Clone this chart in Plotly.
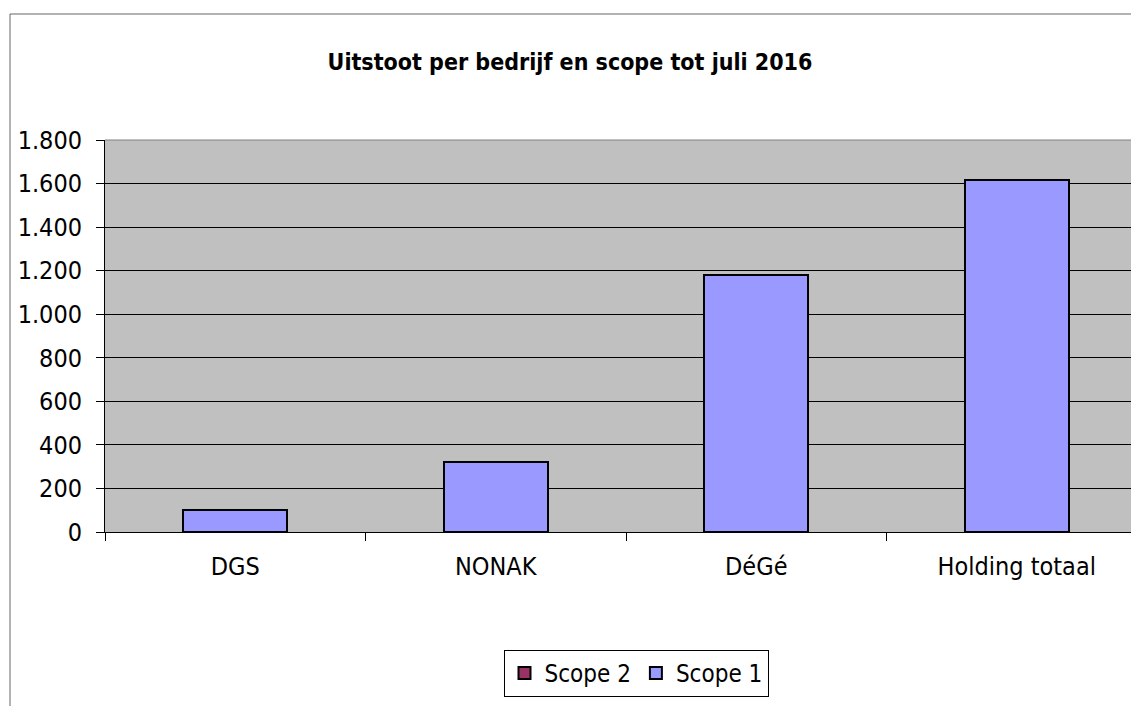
import plotly.graph_objects as go

categories = ["DGS", "NONAK", "DéGé", "Holding totaal"]
scope1 = [100, 320, 1180, 1615]
scope2 = [0, 0, 0, 0]
title_text = "Uitstoot per bedrijf en scope tot juli 2016"

FONT = "'DejaVu Sans Condensed', 'DejaVu Sans', sans-serif"

fig = go.Figure()
fig.add_trace(go.Bar(x=categories, y=scope1, name="Scope 1",
                     marker=dict(color="#9999FF", line=dict(color="black", width=2)),
                     width=0.4, legendrank=2))
fig.add_trace(go.Bar(x=categories, y=scope2, name="Scope 2",
                     marker=dict(color="#993366", line=dict(color="black", width=2)),
                     width=0.4, legendrank=1))

OFF = 8  # page body margin
W, H = 1139 - OFF, 706 - OFF
L, T = 105 - OFF, 140 - OFF
B = H - (532 - OFF)
plot_w = W - L
plot_h = H - T - B

def px_x(x):
    return (x - OFF - L) / plot_w

def px_y(y):
    return (532 - y) / plot_h

fig.update_layout(
    width=W, height=H,
    margin=dict(l=L, r=0, t=T, b=B),
    barmode="stack",
    separators=",.",
    paper_bgcolor="white",
    plot_bgcolor="#C0C0C0",
    font=dict(family=FONT, size=25, color="black"),
    title=dict(text="<b>" + title_text + "</b>", x=(570 - OFF) / W, xanchor="center",
               y=1 - (62 - OFF) / H, yanchor="middle", font=dict(size=23)),
    showlegend=True,
    legend=dict(orientation="h", x=px_x(636), xanchor="center", y=px_y(650), yanchor="top",
                bordercolor="black", borderwidth=1, bgcolor="white",
                font=dict(size=24), traceorder="normal", itemwidth=30),
    xaxis=dict(range=[-0.5, -0.5 + plot_w / 260.5], tickson="boundaries", ticks="outside",
               ticklen=8, tickcolor="black", showline=True, linecolor="black", linewidth=1,
               showgrid=False, ticklabelstandoff=12, fixedrange=True),
    yaxis=dict(range=[0, 1800], dtick=200, tickformat=",d", ticks="outside", ticklen=8,
               tickcolor="black", showline=True, linecolor="black", linewidth=1,
               showgrid=True, gridcolor="black", gridwidth=1, zeroline=False,
               ticklabelstandoff=9, fixedrange=True),
    shapes=[
        dict(type="line", xref="paper", yref="paper", x0=px_x(10), x1=px_x(1150),
             y0=px_y(14), y1=px_y(14), line=dict(color="#666666", width=1)),
        dict(type="line", xref="paper", yref="paper", x0=px_x(10), x1=px_x(10),
             y0=px_y(14), y1=px_y(720), line=dict(color="#666666", width=1)),
        dict(type="line", xref="paper", yref="paper", x0=0, x1=1,
             y0=1, y1=1, line=dict(color="#808080", width=1)),
    ],
)

fig.write_html("out.html")
